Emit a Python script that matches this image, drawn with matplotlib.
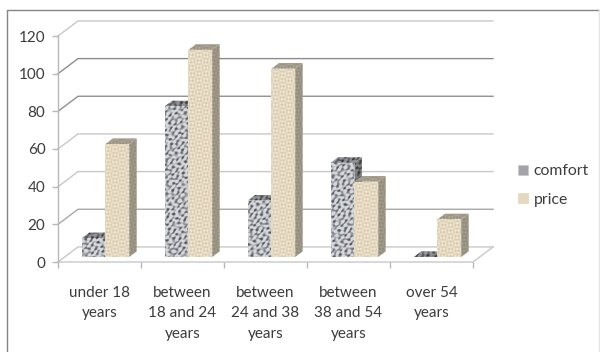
import numpy as np
import matplotlib
matplotlib.use('Agg')
import matplotlib.pyplot as plt
from matplotlib.patches import Patch, Polygon

categories = ['under 18\nyears', 'between\n18 and 24\nyears', 'between\n24 and 38\nyears',
              'between\n38 and 54\nyears', 'over 54\nyears']
comfort = [10, 80, 30, 50, 0]
price = [60, 110, 100, 40, 20]
y_ticks = [0, 20, 40, 60, 80, 100, 120]
# the wall lines come out with different weights
grid_colors = ['#c8c8c8', '#a8a8a8', '#c8c8c8', '#c8c8c8', '#909090', '#8c8c8c', '#c8c8c8']

TEXT = '#3c3c3c'
WALL_DX, WALL_DY = 0.241, 8.0      # how far the back wall sits behind the axis
BAR_DX, BAR_DY = 0.09, 3.0         # depth of a bar
BASE = 2.65                        # bars stand a little behind the front edge
SHIFT = 0.072
WIDTH = 0.286


def granite(xx, yy):
    # mottled stone made from several crossing sine waves
    a = np.sin(0.93*xx + 0.41*yy + 1.4*np.sin(0.37*yy - 0.21*xx))
    b = np.sin(-0.57*xx + 1.07*yy + 1.2*np.sin(0.43*xx + 0.19*yy))
    c = np.sin(1.29*xx - 0.77*yy + 0.9*np.sin(0.29*xx - 0.53*yy))
    d = np.sin(0.31*xx + 1.61*yy)
    v = (a + b + c + 0.6*d)/3.6
    v = np.clip(0.74 + 1.0*v, 0, 1)
    dark = np.array([0.33, 0.34, 0.37])
    light = np.array([0.84, 0.85, 0.86])
    return dark + (light - dark)*v[..., None]


def burlap(xx, yy):
    # woven cloth, a fine grid over a cream base
    weave = np.sin(xx*1.9)*np.sin(yy*0.5 + 1) + np.sin(yy*1.7)*np.sin(xx*0.45)
    base = np.array([0.895, 0.85, 0.755])
    return np.clip(base + 0.045*weave[..., None], 0, 1)


def textured(ax, verts, texture, shade, z):
    # fill a polygon given in data units with a pixel sized texture
    verts = np.array(verts, dtype=float)
    disp = ax.transData.transform(verts)
    x0, y0 = disp.min(axis=0)
    x1, y1 = disp.max(axis=0)
    nx, ny = max(int(x1 - x0) + 1, 2), max(int(y1 - y0) + 1, 2)
    xx, yy = np.meshgrid(np.arange(nx) + x0, np.arange(ny) + y0)
    img = np.clip(texture(xx, yy)*shade, 0, 1)
    ex0, ey0 = verts.min(axis=0)
    ex1, ey1 = verts.max(axis=0)
    im = ax.imshow(img, extent=(ex0, ex1, ey0, ey1), origin='lower', aspect='auto',
                   interpolation='bilinear', zorder=z)
    poly = Polygon(verts, closed=True, transform=ax.transData)
    im.set_clip_path(poly)
    im.set_clip_box(ax.figure.bbox)


def draw_block(ax, rect, texture, side_shade, top_shade, z):
    # side, cap and front of one bar, all from the bar rectangle
    x0, y0 = rect.get_x(), rect.get_y()
    x1, y1 = x0 + rect.get_width(), y0 + rect.get_height()
    side = [(x1, y0), (x1 + BAR_DX, y0 + BAR_DY), (x1 + BAR_DX, y1 + BAR_DY), (x1, y1)]
    top = [(x0, y1), (x1, y1), (x1 + BAR_DX, y1 + BAR_DY), (x0 + BAR_DX, y1 + BAR_DY)]
    textured(ax, side, texture, side_shade, z)
    textured(ax, top, texture, top_shade, z)
    if rect.get_height() > 0:
        textured(ax, [(x0, y0), (x1, y0), (x1, y1), (x0, y1)], texture, 1.0, z + 0.1)


fig = plt.figure(figsize=(6, 3.52), dpi=100)
plt.rcParams['font.family'] = ['Lato', 'DejaVu Sans']
ax = fig.add_axes([58/600, (352 - 262)/352, 415/600, 226/352])
ax.set_xlim(-0.5, 4.5)
ax.set_ylim(0, 120)
ax.patch.set_visible(False)
for s in ax.spines.values():
    s.set_visible(False)

# chart border, the picture is cut off before its lower edge
tr = fig.transFigure
fig.add_artist(plt.Line2D([6.5/600, 6.5/600, 599/600], [0, 342.5/352, 342.5/352],
                          color='#858585', lw=1.0, transform=tr))
fig.add_artist(plt.Line2D([599.2/600, 599.2/600], [0, 342.5/352], color='#e4e4e4', lw=1.0, transform=tr))

# back wall, side wall and floor
for v, c in zip(y_ticks, grid_colors):
    ax.plot([-0.5, -0.5 + WALL_DX, 4.5 + WALL_DX], [v, v + WALL_DY, v + WALL_DY],
            color=c, lw=1.0, clip_on=False, zorder=1)
ax.plot([-0.5, -0.5], [0, 120], color='#b8b8b8', lw=1.0, clip_on=False, zorder=1)
ax.plot([-0.5, 4.5, 4.5 + WALL_DX], [0, 0, WALL_DY], color='#c8c8c8', lw=1.0,
        clip_on=False, zorder=1)

x = np.arange(len(categories))
comfort_bars = ax.bar(x + SHIFT - WIDTH/2, comfort, WIDTH, bottom=BASE, color='#9a9ca2', zorder=0)
price_bars = ax.bar(x + SHIFT + WIDTH/2, price, WIDTH, bottom=BASE, color='#e4d8be', zorder=0)
for rect in comfort_bars:
    draw_block(ax, rect, granite, 0.6, 0.68, 3)
for rect in price_bars:
    draw_block(ax, rect, burlap, 0.68, 0.72, 4)

ax.set_yticks(y_ticks)
ax.set_xticks(np.arange(-0.5, 5, 1))
ax.set_xticklabels([])
ax.set_xticks(x, labels=categories, minor=True)
ax.tick_params(axis='x', which='major', length=4, width=1, color='#b8b8b8')
ax.tick_params(axis='x', which='minor', length=0, pad=17, labelsize=11, labelcolor=TEXT)
ax.tick_params(axis='y', length=4, width=1, color='#b8b8b8', pad=5, labelsize=11, labelcolor=TEXT)
for t in ax.get_xticklabels(minor=True):
    t.set_linespacing(1.62)

handles = [Patch(facecolor='#a2a4aa', edgecolor='#c8c8c8', linewidth=0.5, label='comfort'),
           Patch(facecolor='#e4d8be', edgecolor='#e4d8be', linewidth=0.5, label='price')]
ax.legend(handles=handles, loc='upper left', bbox_to_anchor=(512/600, 194/352),
          bbox_transform=fig.transFigure, frameon=False, fontsize=11.3, labelcolor=TEXT,
          handlelength=0.62, handleheight=0.62, handletextpad=0.35, labelspacing=0.92,
          borderpad=0.4, borderaxespad=0)

ax.set_xlim(-0.5, 4.5)
ax.set_ylim(0, 120)
fig.savefig('out.png', dpi=100)
